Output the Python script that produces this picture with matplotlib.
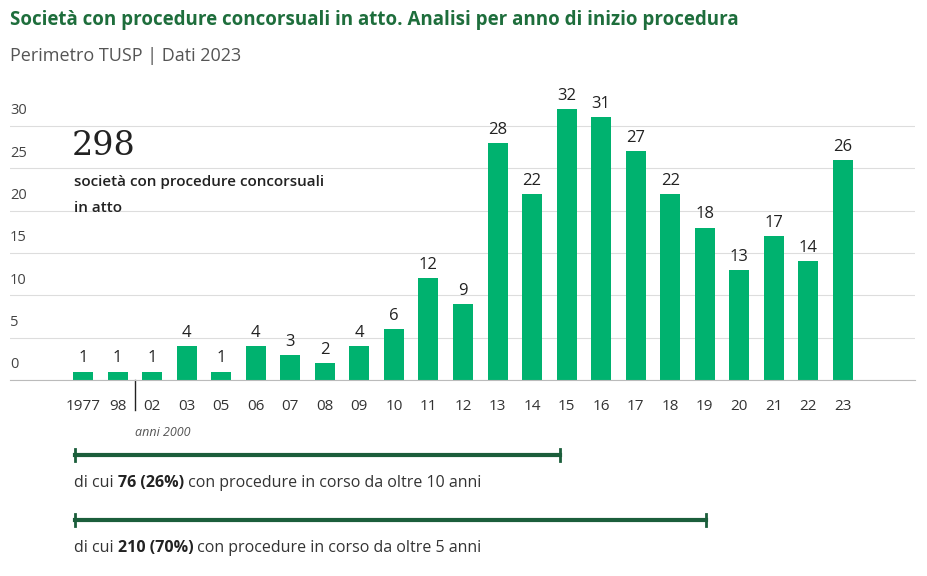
import matplotlib
matplotlib.use('Agg')
import matplotlib.pyplot as plt

years = ['1977', '98', '02', '03', '05', '06', '07', '08', '09', '10', '11', '12',
         '13', '14', '15', '16', '17', '18', '19', '20', '21', '22', '23']
counts = [1, 1, 1, 4, 1, 4, 3, 2, 4, 6, 12, 9, 28, 22, 32, 31, 27, 22, 18, 13, 17, 14, 26]
yticks = [0, 5, 10, 15, 20, 25, 30]

plt.rcParams['font.family'] = ['Open Sans', 'DejaVu Sans']
W, H = 928, 576
fig = plt.figure(figsize=(9.28, 5.76), dpi=100)
ax = fig.add_axes([10 / W, 1 - 380 / H, 905 / W, (380 - 100.5) / H])

green = '#00b26f'
dark = '#1b5e3b'
x = list(range(len(years)))
ax.bar(x, counts, width=0.58, color=green, zorder=2)
for xi, v in zip(x, counts):
    ax.text(xi, v + 0.6, str(v), ha='center', va='bottom', fontsize=12, color='#222222')

ax.set_xlim(-73 / 34.5, 22 + 72 / 34.5)
ax.set_ylim(0, 33)
ax.set_yticks(yticks)
ax.yaxis.grid(True, color='#dddddd', lw=0.8, zorder=0)
ax.tick_params(axis='y', length=0, labelleft=False)
for t in yticks:
    ax.text(0.0, t + 0.9, str(t), transform=ax.get_yaxis_transform(), fontsize=10.5,
            color='#444444', va='bottom', ha='left')
ax.set_xticks(x)
ax.set_xticklabels(years, fontsize=11, color='#333333')
ax.tick_params(axis='x', length=0, pad=14)
for s in ['top', 'right', 'left']:
    ax.spines[s].set_visible(False)
ax.spines['bottom'].set_color('#bbbbbb')

# separator between 98 and 02
ax.plot([1.5, 1.5], [0, -3.5], color='#222222', lw=1, clip_on=False)
fig.text(135 / W, 1 - 432 / H, 'anni 2000', fontsize=9, style='italic', color='#555555',
         ha='left', va='center')

fig.text(10 / W, 1 - 20 / H, 'Società con procedure concorsuali in atto. Analisi per anno di inizio procedura',
         fontsize=13.5, color='#1e6e3c', fontweight='bold', va='center')
fig.text(10 / W, 1 - 56 / H, 'Perimetro TUSP | Dati 2023', fontsize=13, color='#555555', va='center')

fig.text(72 / W, 1 - 146 / H, '298', fontsize=24, family='DejaVu Serif', color='#222222', va='center')
fig.text(74 / W, 1 - 182 / H, 'società con procedure concorsuali', fontsize=11, color='#222222', va='center',
         fontweight='semibold')
fig.text(74 / W, 1 - 208 / H, 'in atto', fontsize=11, color='#222222', va='center', fontweight='semibold')

for y_line, x_end, y_txt, num, pct, rest in [
        (455, 560, 483, '76', '26%', 'con procedure in corso da oltre 10 anni'),
        (520, 706, 548, '210', '70%', 'con procedure in corso da oltre 5 anni')]:
    fy = 1 - y_line / H
    fig.add_artist(plt.Line2D([75 / W, x_end / W], [fy, fy], color=dark, lw=3))
    for xe in (75, x_end):
        fig.add_artist(plt.Line2D([xe / W, xe / W], [fy - 6 / H, fy + 6 / H], color=dark, lw=2))
    t1 = fig.text(74 / W, 1 - y_txt / H, 'di cui ', fontsize=11.5, color='#333333', va='center')
    t2 = ax.annotate(f'{num} ({pct})', xycoords=t1, xy=(1, 0), va='bottom', fontsize=11.5,
                     color='#222222', fontweight='bold')
    ax.annotate(' ' + rest, xycoords=t2, xy=(1, 0), va='bottom', fontsize=11.5, color='#333333')

fig.savefig('out.png', dpi=100)
